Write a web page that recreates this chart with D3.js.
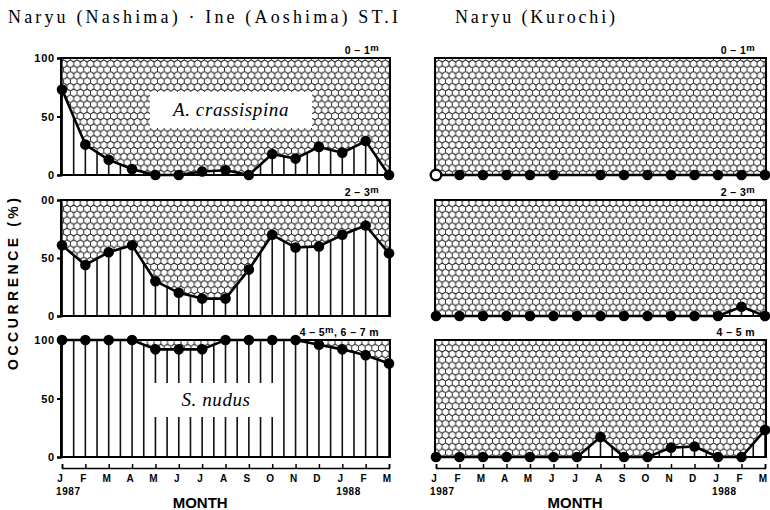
<!DOCTYPE html>
<html><head><meta charset="utf-8">
<script src="https://cdn.jsdelivr.net/npm/d3@7"></script>
<style>body{margin:0;background:#fff}</style>
</head><body>
<svg id="c" width="770" height="510"></svg>
<script>
// ---- data ----
const months = ["J","F","M","A","M","J","J","A","S","O","N","D","J","F","M"];
const yearLabels = ["1987","1988"];
const yearIndex = [0, 12];
const yTicks = [0, 50, 100];
const yTickLabelsTop = ["0", "50", "100"];
const yTickLabelsMid = ["0", "50", "00"];
const yTickLabelsBot = ["0", "50", "100"];
// Naryu (Nashima) · Ine (Aoshima) ST.I
const nashima01 = [73, 26, 13, 5, 0, 0, 3, 4, 0, 18, 14, 24, 19, 29, 0];
const nashima23 = [61, 44, 55, 61, 30, 20, 15, 15, 40, 70, 59, 60, 70, 78, 54];
const nashima47 = [100, 100, 100, 100, 92, 92, 92, 100, 100, 100, 100, 96, 92, 87, 80];
// Naryu (Kurochi)
const kurochi01 = [0, 0, 0, 0, 0, 0, null, 0, 0, 0, 0, 0, 0, 0, 0];
const kurochi23 = [0, 0, 0, 0, 0, 0, 0, 0, 0, 0, 0, 0, 0, 8, 0];
const kurochi45 = [0, 0, 0, 0, 0, 0, 0, 17, 0, 0, 8, 9, 0, 0, 23];

const titles = ["Naryu (Nashima) \u00b7 Ine (Aoshima) ST.I", "Naryu (Kurochi)"];
const speciesTop = "A. crassispina";
const speciesBot = "S. nudus";
const yTitle = "OCCURRENCE (%)";
const xTitle = "MONTH";

// ---- layout ----
const svg = d3.select("#c");
const cols = [[62, 389], [436, 765]];
const rows = [[58, 175], [200, 316], [340, 457]];
const sans = "'Liberation Sans', Arial, sans-serif";
const serif = "'Liberation Serif', 'Times New Roman', serif";

// honeycomb pattern (pointy-top hexagons)
const defs = svg.append("defs");
const hw = 6.7, hs = hw / Math.sqrt(3);
const pat = defs.append("pattern").attr("id", "hex")
  .attr("patternUnits", "userSpaceOnUse").attr("width", hw).attr("height", 3 * hs);
pat.append("rect").attr("width", hw).attr("height", 3 * hs).attr("fill", "#fff");
const hexPath = (cx, cy) => {
  const p = d3.path();
  p.moveTo(cx + hw / 2, cy - hs / 2);
  p.lineTo(cx, cy - hs);
  p.lineTo(cx - hw / 2, cy - hs / 2);
  p.lineTo(cx - hw / 2, cy + hs / 2);
  p.lineTo(cx, cy + hs);
  p.lineTo(cx + hw / 2, cy + hs / 2);
  p.closePath();
  return p.toString();
};
[[0,0],[hw,0],[0,3*hs],[hw,3*hs],[hw/2,1.5*hs]].forEach(([cx,cy]) => {
  pat.append("path").attr("d", hexPath(cx, cy)).attr("fill", "none")
    .attr("stroke", "#222").attr("stroke-width", 0.9);
});

const panels = [
  {values: nashima01, col: 0, row: 0, depth: [["0 \u2013 1", 0], ["m", 1]], species: speciesTop, box: [150, 92, 162, 36], yLabels: yTickLabelsTop},
  {values: nashima23, col: 0, row: 1, depth: [["2 \u2013 3", 0], ["m", 1]], yLabels: yTickLabelsMid},
  {values: nashima47, col: 0, row: 2, depth: [["4 \u2013 5", 0], ["m", 1], [", 6 \u2013 7 m", 0]], species: speciesBot, box: [152, 383, 128, 34], yLabels: yTickLabelsBot},
  {values: kurochi01, col: 1, row: 0, depth: [["0 \u2013 1", 0], ["m", 1]], ring: 0},
  {values: kurochi23, col: 1, row: 1, depth: [["2 \u2013 3", 0], ["m", 1]]},
  {values: kurochi45, col: 1, row: 2, depth: [["4 \u2013 5 m", 0]]},
];

panels.forEach((p, pi) => {
  const [xa, xb] = cols[p.col];
  const [yb, yt] = [rows[p.row][1], rows[p.row][0]];
  const x = d3.scaleLinear().domain([0, months.length - 1]).range([xa, xb]);
  const y = d3.scaleLinear().domain([0, 100]).range([yb, yt]);
  const g = svg.append("g");
  const pts = p.values.map((v, i) => ({i, v}));
  const val = d => d.v == null ? 0 : d.v;

  // pattern background
  g.append("rect").attr("x", xa - 1).attr("y", yt).attr("width", xb - xa + 2).attr("height", yb - yt)
    .attr("fill", "url(#hex)");
  // white area below curve
  const area = d3.area().x(d => x(d.i)).y0(y(0)).y1(d => y(val(d)));
  g.append("path").attr("d", area(pts)).attr("fill", "#fff");
  // vertical lines clipped below curve
  const cid = "clip" + pi;
  defs.append("clipPath").attr("id", cid).append("path").attr("d", area(pts));
  const halfSteps = d3.range(0, months.length - 1 + 0.01, 0.5);
  g.append("g").attr("clip-path", `url(#${cid})`).selectAll("line").data(halfSteps).join("line")
    .attr("x1", d => x(d)).attr("x2", d => x(d)).attr("y1", y(0)).attr("y2", y(100))
    .attr("stroke", "#111").attr("stroke-width", 1.6);
  // species label box
  if (p.species) {
    const [bx, by, bw, bh] = p.box;
    g.append("rect").attr("x", bx).attr("y", by).attr("width", bw).attr("height", bh).attr("fill", "#fff");
    g.append("text").attr("x", bx + bw / 2).attr("y", by + bh / 2 + 6).attr("text-anchor", "middle")
      .attr("font-family", serif).attr("font-style", "italic").attr("font-size", 19)
      .attr("letter-spacing", 0.6).text(p.species);
  }
  // curve
  const line = d3.line().x(d => x(d.i)).y(d => y(val(d)));
  g.append("path").attr("d", line(pts)).attr("fill", "none").attr("stroke", "#000")
    .attr("stroke-width", 2.6).attr("stroke-linejoin", "round");
  // border
  g.append("rect").attr("x", xa - 1).attr("y", yt).attr("width", xb - xa + 2).attr("height", yb - yt)
    .attr("fill", "none").attr("stroke", "#000").attr("stroke-width", 2);
  // dots
  g.selectAll("circle.pt").data(pts.filter(d => d.v != null)).join("circle").attr("class", "pt")
    .attr("cx", d => x(d.i)).attr("cy", d => y(d.v)).attr("r", 5.3)
    .attr("fill", d => d.i === p.ring ? "#fff" : "#000")
    .attr("stroke", "#000").attr("stroke-width", d => d.i === p.ring ? 2.4 : 0);
  // depth label
  const dt = g.append("text").attr("x", xb - 10).attr("y", yt - 4)
    .attr("text-anchor", "end").attr("font-family", sans).attr("font-weight", "bold")
    .attr("font-size", 10.5).attr("letter-spacing", 0.4);
  p.depth.forEach(([s, sup]) => {
    const t = dt.append("tspan").text(s);
    if (sup) t.attr("dy", -3).attr("font-size", 9.5);
    else if (dt.selectAll("tspan").size() > 1) t.attr("dy", 3);
  });
  // y axis (left column)
  if (p.col === 0) {
    const ax = g.append("g").attr("transform", `translate(${xa - 1},0)`)
      .call(d3.axisLeft(y).tickValues(yTicks).tickSize(4).tickPadding(2)
        .tickFormat((d, i) => p.yLabels[i]));
    ax.select(".domain").attr("stroke-width", 2.2);
    ax.selectAll(".tick line").attr("stroke-width", 2);
    ax.selectAll("text").attr("font-family", sans).attr("font-weight", "bold")
      .attr("font-size", 11).attr("letter-spacing", 0.8).attr("fill", "#000");
  }
  // month axis (bottom row)
  if (p.row === 2) {
    const ay = 468;
    const ax = g.append("g").attr("transform", `translate(0,${ay})`)
      .call(d3.axisTop(x).tickValues(d3.range(months.length)).tickSize(4).tickFormat(""));
    ax.select(".domain").attr("stroke-width", 1.6);
    ax.selectAll(".tick line").attr("stroke-width", 1.5);
    const lx = d => x(d) - 2;
    g.selectAll("text.mon").data(months).join("text").attr("class", "mon")
      .attr("x", (d, i) => lx(i)).attr("y", ay + 14).attr("text-anchor", "middle")
      .attr("font-family", sans).attr("font-weight", "bold").attr("font-size", 10).text(d => d);
    g.selectAll("text.yr").data(yearLabels).join("text").attr("class", "yr")
      .attr("x", (d, i) => lx(yearIndex[i]) - 4).attr("y", ay + 27)
      .attr("font-family", sans).attr("font-weight", "bold").attr("font-size", 10)
      .attr("letter-spacing", 0.6).text(d => d);
    g.append("text").attr("x", lx(6)).attr("y", 508).attr("text-anchor", "middle")
      .attr("font-family", sans).attr("font-weight", "bold").attr("font-size", 15).text(xTitle);
  }
});

// titles
svg.append("text").attr("x", 8).attr("y", 23).attr("font-family", serif).attr("font-size", 18)
  .attr("textLength", 390).attr("lengthAdjust", "spacing").text(titles[0]);
svg.append("text").attr("x", 455).attr("y", 23).attr("font-family", serif).attr("font-size", 18)
  .attr("textLength", 160).attr("lengthAdjust", "spacing").text(titles[1]);
// y title
svg.append("text").attr("transform", "translate(18,284) rotate(-90)").attr("text-anchor", "middle")
  .attr("font-family", sans).attr("font-weight", "bold").attr("font-size", 14)
  .attr("textLength", 172).attr("lengthAdjust", "spacing").text(yTitle);
</script>
</body></html>
